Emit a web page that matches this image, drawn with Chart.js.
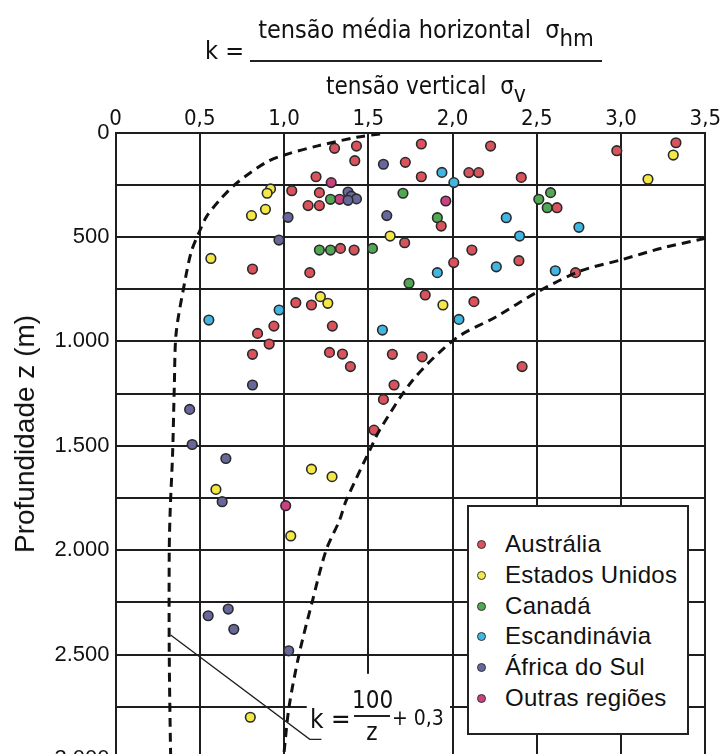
<!DOCTYPE html>
<html>
<head>
<meta charset="utf-8">
<script src="https://cdn.jsdelivr.net/npm/chart.js@4.4.1/dist/chart.umd.min.js"></script>
<style>
  html, body { margin: 0; padding: 0; background: #fff; overflow: hidden; }
  #wrap { position: relative; width: 721px; height: 754px; overflow: hidden; }
  #wrap canvas { position: absolute; left: 0; top: 0; }
  .narrow { font-family: "Liberation Sans Narrow", "Arial Narrow", "DejaVu Sans Condensed", sans-serif; color: #111; }
  .abs { position: absolute; white-space: nowrap; }
  #ytitle {
    position: absolute; left: 25px; top: 434px; white-space: nowrap;
    transform: translate(-50%, -50%) rotate(-90deg);
    font-family: "Liberation Sans", Arial, sans-serif; font-size: 28px; color: #111;
  }
  #legend {
    position: absolute; left: 467px; top: 505px; width: 218px; height: 226px;
    background: #fff; border: 2px solid #222;
    font-family: "Liberation Sans", Arial, sans-serif; font-size: 24px; letter-spacing: 0.3px; color: #111;
  }
  #legend .row { position: absolute; left: 0; width: 100%; height: 30px; line-height: 30px; white-space: nowrap; }
  #legend .dot {
    position: absolute; left: 8px; top: 11px; width: 7px; height: 7px;
    border-radius: 50%; border: 1.2px solid #333;
  }
  #legend .txt { position: absolute; left: 36px; top: 0; }
  sub { font-size: 0.95em; vertical-align: -0.35em; }
</style>
</head>
<body>
<div id="wrap">
  <canvas id="kChart" width="721" height="790"></canvas>

  <!-- título: fração k -->
  <div class="abs narrow" style="left:205px; top:36px; font-size:25px;">k =</div>
  <div class="abs narrow" style="left:250px; top:15px; width:352px; text-align:center; font-size:25px;">tensão média horizontal &nbsp;σ<sub>hm</sub></div>
  <div class="abs" style="left:250px; top:60px; width:352px; height:2px; background:#222;"></div>
  <div class="abs narrow" style="left:250px; top:72px; width:352px; text-align:center; font-size:24px;">tensão vertical &nbsp;σ<sub>v</sub></div>

  <div id="ytitle">Profundidade z (m)</div>

  <!-- fórmula do limite inferior -->
  <div class="abs narrow" style="left:310px; top:704px; font-size:26px;">k =</div>
  <div class="abs narrow" style="left:352px; top:686px; width:40px; text-align:center; font-size:24px;">100</div>
  <div class="abs" style="left:354px; top:715px; width:36px; height:1.5px; background:#222;"></div>
  <div class="abs narrow" style="left:352px; top:718px; width:40px; text-align:center; font-size:24px;">z</div>
  <div class="abs narrow" style="left:392px; top:706px; font-size:21px;">+ 0,3</div>

  <div id="legend"></div>
</div>

<script>
// dados: pares [k, z (m)]
const regions = ['Austrália', 'Estados Unidos', 'Canadá', 'Escandinávia', 'África do Sul', 'Outras regiões'];
const regionColors = ['#d9525c', '#f3e845', '#52a852', '#42b6e2', '#67679b', '#c9417f'];

const australia = [
  [1.30, 76], [1.43, 65], [1.42, 135], [1.19, 212], [1.046, 279], [1.21, 288],
  [1.143, 350], [1.21, 350], [0.813, 654], [1.153, 671], [1.335, 555], [1.416, 563],
  [1.07, 815], [1.163, 826], [0.94, 927], [0.843, 962], [1.287, 927], [1.815, 55],
  [2.226, 65], [2.975, 87], [3.326, 49], [1.72, 143], [1.815, 212], [2.097, 192],
  [2.155, 192], [2.408, 215], [1.933, 448], [2.62, 360], [1.716, 528], [2.115, 563],
  [2.007, 623], [2.394, 614], [2.73, 671], [1.838, 778], [2.127, 810], [0.912, 1013],
  [0.813, 1062], [1.27, 1053], [1.347, 1061], [1.394, 1121], [1.643, 1062], [1.653, 1209],
  [1.59, 1278], [1.534, 1425], [1.82, 1074], [2.413, 1121]
];
const estadosUnidos = [
  [0.92, 270], [0.90, 291], [0.89, 368], [0.807, 398], [0.566, 603], [1.63, 496],
  [1.216, 786], [1.26, 818], [3.31, 108], [3.16, 224], [1.943, 826], [1.163, 1612],
  [1.285, 1648], [0.596, 1709], [1.04, 1932], [0.80, 2800]
];
const canada = [
  [1.276, 320], [1.21, 563], [1.276, 563], [1.525, 555], [1.706, 291], [1.91, 408],
  [2.512, 320], [2.582, 288], [2.562, 360], [1.742, 722]
];
const escandinavia = [
  [0.971, 850], [0.554, 898], [1.584, 946], [1.937, 191], [2.008, 240], [2.319, 408],
  [2.75, 454], [2.398, 496], [2.26, 643], [1.91, 671], [2.61, 662], [2.038, 895]
];
const africaDoSul = [
  [1.59, 152], [1.38, 285], [1.40, 305], [1.43, 318], [1.38, 325], [1.024, 406],
  [1.61, 398], [0.97, 515], [0.813, 1209], [0.44, 1326], [0.455, 1494], [0.655, 1561],
  [0.633, 1768], [0.55, 2314], [0.669, 2282], [0.702, 2379], [1.028, 2482]
];
const outras = [
  [1.28, 240], [1.33, 320], [1.96, 328], [1.01, 1787]
];

// curvas tracejadas (limites)
const lowerBound = [
  [1.57, 7], [1.43, 23], [1.2, 64], [1.034, 100], [0.9, 140], [0.718, 243],
  [0.619, 323], [0.54, 403], [0.495, 480], [0.45, 570], [0.41, 720], [0.36, 960],
  [0.349, 1217], [0.339, 1536], [0.325, 1800], [0.319, 2000], [0.319, 2497],
  [0.327, 2972], [0.33, 3000]
];
const upperBound = [
  [3.5, 507], [3.25, 552], [3.0, 610], [2.76, 663], [2.5, 765], [2.26, 882], [2.02, 986],
  [1.765, 1185], [1.567, 1425], [1.528, 1489], [1.37, 1760], [1.33, 1856],
  [1.25, 2000], [1.17, 2239], [1.09, 2497], [1.03, 2750], [1.0, 2972], [0.998, 3000]
];

// linha de chamada da fórmula
const leaderK = [0.327, 1.153, 1.222];
const leaderZ = [2406, 2906, 2906];
// área branca atrás da fórmula (k, z)
const formulaBox = { k0: 1.135, k1: 1.985, z0: 2592, z1: 3000 };

const xTicks = [0, 0.5, 1, 1.5, 2, 2.5, 3, 3.5];

const toXY = arr => arr.map(p => ({ x: p[0], y: p[1] }));
const series = [australia, estadosUnidos, canada, escandinavia, africaDoSul, outras];

// legenda em HTML
const legend = document.getElementById('legend');
regions.forEach((name, i) => {
  const row = document.createElement('div');
  row.className = 'row';
  row.style.top = (22 + i * 30.8) + 'px';
  row.innerHTML = '<span class="dot" style="background:' + regionColors[i] + '"></span><span class="txt">' + name + '</span>';
  legend.appendChild(row);
});

const overlayPlugin = {
  id: 'overlay',
  beforeDatasetsDraw(chart) {
    const { ctx, scales: { x, y } } = chart;
    const l = x.getPixelForValue(formulaBox.k0), r = x.getPixelForValue(formulaBox.k1);
    const t = y.getPixelForValue(formulaBox.z0), b = y.getPixelForValue(formulaBox.z1);
    ctx.save();
    ctx.fillStyle = '#fff';
    ctx.fillRect(l, t, r - l, b - t + 2);
    ctx.restore();
  },
  afterDatasetsDraw(chart) {
    const { ctx, scales: { x, y } } = chart;
    ctx.save();
    ctx.strokeStyle = '#222';
    ctx.lineWidth = 1.4;
    ctx.beginPath();
    leaderK.forEach((k, i) => {
      const px = x.getPixelForValue(k), py = y.getPixelForValue(leaderZ[i]);
      if (i === 0) ctx.moveTo(px, py); else ctx.lineTo(px, py);
    });
    ctx.stroke();
    ctx.restore();
  }
};

const datasets = [
  {
    label: 'limite superior',
    data: toXY(upperBound),
    showLine: true, borderColor: '#111', borderWidth: 3, borderDash: [9, 6],
    pointRadius: 0, tension: 0.3, fill: false
  },
  {
    label: 'limite inferior',
    data: toXY(lowerBound),
    showLine: true, borderColor: '#111', borderWidth: 3, borderDash: [9, 6],
    pointRadius: 0, tension: 0.3, fill: false
  }
];
series.forEach((s, i) => {
  datasets.push({
    label: regions[i],
    data: toXY(s),
    backgroundColor: regionColors[i],
    borderColor: '#2a2a2a',
    borderWidth: 1.6,
    pointRadius: 4.8
  });
});

new Chart(document.getElementById('kChart'), {
  type: 'scatter',
  data: { datasets: datasets },
  options: {
    responsive: false,
    animation: false,
    layout: { padding: { left: 0, top: 0, right: 15, bottom: 31 } },
    plugins: {
      legend: { display: false },
      tooltip: { enabled: false }
    },
    scales: {
      x: {
        type: 'linear',
        position: 'top',
        min: 0, max: 3.5,
        afterBuildTicks: scale => { scale.ticks = xTicks.map(v => ({ value: v })); },
        afterFit: scale => { scale.height = 132.5; },
        grid: { color: '#1e1e1e', lineWidth: 2, drawTicks: false },
        border: { color: '#1e1e1e', width: 2 },
        ticks: {
          padding: 0,
          color: '#111',
          font: { family: '"Liberation Sans Narrow", "Arial Narrow", "DejaVu Sans Condensed", sans-serif', size: 22 },
          callback: v => v === 0 ? '0' : v.toFixed(1).replace('.', ',')
        }
      },
      y: {
        type: 'linear',
        reverse: true,
        min: 0, max: 3000,
        afterFit: scale => { scale.width = 115.5; },
        grid: { color: '#1e1e1e', lineWidth: 2, drawTicks: false },
        border: { color: '#1e1e1e', width: 2 },
        ticks: {
          stepSize: 250,
          padding: 6,
          color: '#111',
          font: { family: '"Liberation Sans", Arial, sans-serif', size: 22 },
          callback: v => v % 500 === 0 ? (v >= 1000 ? Math.floor(v / 1000) + '.' + String(v % 1000).padStart(3, '0') : String(v)) : ''
        }
      }
    }
  },
  plugins: [overlayPlugin]
});
</script>
</body>
</html>
